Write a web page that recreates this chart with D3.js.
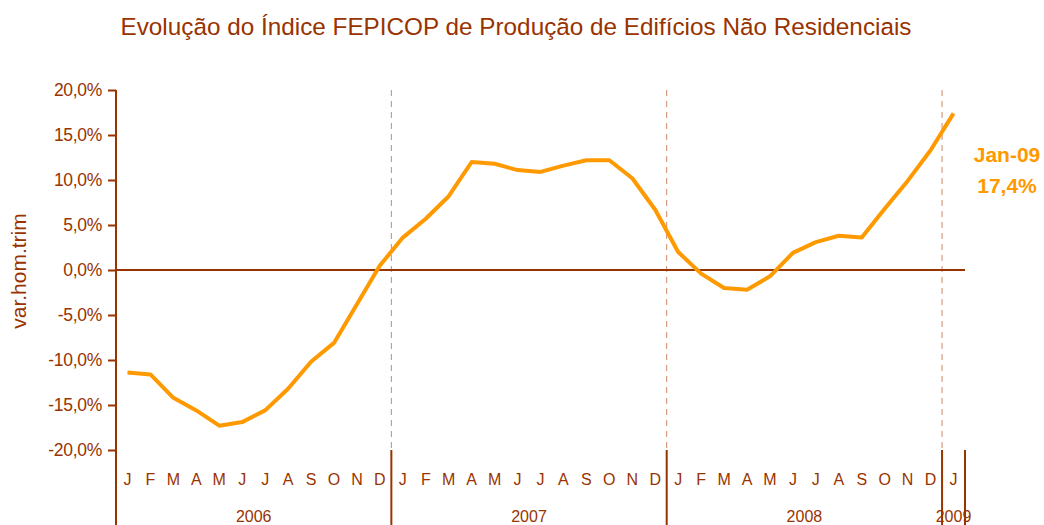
<!DOCTYPE html>
<html>
<head>
<meta charset="utf-8">
<script src="https://cdn.jsdelivr.net/npm/d3@7"></script>
<style>
  body { margin: 0; background: #fff; }
  text { font-family: "Liberation Sans", Arial, sans-serif; }
</style>
</head>
<body>
<div class="canvas"></div>
<script>
// data
const years = ['2006', '2007', '2008', '2009'];
const monthLetters = ['J', 'F', 'M', 'A', 'M', 'J', 'J', 'A', 'S', 'O', 'N', 'D'];
const values2006 = [-11.4, -11.6, -14.2, -15.6, -17.3, -16.9, -15.6, -13.2, -10.2, -8.1, -3.8, 0.5];
const values2007 = [3.6, 5.7, 8.2, 12.0, 11.8, 11.1, 10.9, 11.6, 12.2, 12.2, 10.2, 6.7];
const values2008 = [2.0, -0.4, -2.0, -2.2, -0.7, 1.9, 3.1, 3.8, 3.6, 6.8, 9.9, 13.3];
const values2009 = [17.4];
const yTicks = [-20, -15, -10, -5, 0, 5, 10, 15, 20];

const brown = '#993300';
const orange = '#FF9900';

const series = [values2006, values2007, values2008, values2009];
const data = [];
series.forEach((vals, i) => {
    vals.forEach((v, m) => {
        data.push({ key: years[i] + '-' + m, year: years[i], month: monthLetters[m], value: v });
    });
});

// pt-style percent: comma decimal, plain hyphen for negatives
const pct = v => v.toFixed(1).replace('.', ',') + '%';

const svg = d3.select('.canvas')
                .append('svg')
                .attr('width', 1044)
                .attr('height', 525);

const margin = {top: 90, left: 116};
const graphWidth = 849;
const graphHeight = 360;

const graph = svg.append('g')
                    .attr('transform', `translate(${margin.left}, ${margin.top})`);

const x = d3.scaleBand()
            .domain(data.map(d => d.key))
            .range([0, graphWidth]);

const y = d3.scaleLinear()
            .domain([-20, 20])
            .range([graphHeight, 0]);

// title
svg.append('text')
    .attr('x', 516)
    .attr('y', 35)
    .attr('text-anchor', 'middle')
    .attr('fill', brown)
    .attr('font-size', 24.3)
    .text('Evolução do Índice FEPICOP de Produção de Edifícios Não Residenciais');

// y axis title
svg.append('text')
    .attr('transform', 'translate(26, 271) rotate(-90)')
    .attr('text-anchor', 'middle')
    .attr('fill', brown)
    .attr('font-size', 21)
    .text('var.hom.trim');

// year separators (dashed in plot, solid below)
const yearStarts = years.map(yr => data.find(d => d.year === yr).key);
const sepKeys = yearStarts.slice(1);
graph.selectAll('line.sep')
    .data(sepKeys)
    .enter()
    .append('line')
    .attr('class', 'sep')
    .attr('x1', d => x(d))
    .attr('x2', d => x(d))
    .attr('y1', 0)
    .attr('y2', graphHeight)
    .attr('stroke', '#CC8866')
    .attr('stroke-width', 1)
    .attr('stroke-dasharray', '6,5');

const bottomLines = [0].concat(sepKeys.map(k => x(k))).concat([graphWidth]);
graph.selectAll('line.bottom')
    .data(bottomLines)
    .enter()
    .append('line')
    .attr('class', 'bottom')
    .attr('x1', d => d)
    .attr('x2', d => d)
    .attr('y1', graphHeight)
    .attr('y2', graphHeight + 80)
    .attr('stroke', brown)
    .attr('stroke-width', 2);

// y axis
const yAxis = d3.axisLeft(y)
                .tickValues(yTicks)
                .tickSize(8)
                .tickFormat(pct);
const yAxisGroup = graph.append('g').call(yAxis);
yAxisGroup.select('.domain').remove();
yAxisGroup.selectAll('.tick line').attr('stroke', brown).attr('stroke-width', 2);
yAxisGroup.selectAll('.tick text')
    .attr('fill', brown)
    .attr('font-size', 17.5)
    .attr('x', -14)
    .style('letter-spacing', '-0.3px');
graph.append('line')
    .attr('x1', 0).attr('x2', 0)
    .attr('y1', 0).attr('y2', graphHeight)
    .attr('stroke', brown)
    .attr('stroke-width', 2);

// zero line
graph.append('line')
    .attr('x1', 0)
    .attr('x2', graphWidth)
    .attr('y1', y(0))
    .attr('y2', y(0))
    .attr('stroke', brown)
    .attr('stroke-width', 2);

// month labels
graph.selectAll('text.month')
    .data(data)
    .enter()
    .append('text')
    .attr('class', 'month')
    .attr('x', d => x(d.key) + x.bandwidth() / 2)
    .attr('y', graphHeight + 35)
    .attr('text-anchor', 'middle')
    .attr('fill', brown)
    .attr('font-size', 16)
    .text(d => d.month);

// year labels
graph.selectAll('text.year')
    .data(years)
    .enter()
    .append('text')
    .attr('class', 'year')
    .attr('x', yr => {
        const keys = data.filter(d => d.year === yr).map(d => d.key);
        return (x(keys[0]) + x(keys[keys.length - 1]) + x.bandwidth()) / 2;
    })
    .attr('y', graphHeight + 72)
    .attr('text-anchor', 'middle')
    .attr('fill', brown)
    .attr('font-size', 16)
    .text(d => d);

// the line
const line = d3.line()
                .x(d => x(d.key) + x.bandwidth() / 2)
                .y(d => y(d.value));

graph.append('path')
    .datum(data)
    .attr('d', line)
    .attr('fill', 'none')
    .attr('stroke', orange)
    .attr('stroke-width', 4)
    .attr('stroke-linejoin', 'round');

// last value label
const last = data[data.length - 1];
const lbl = svg.append('text')
    .attr('text-anchor', 'middle')
    .attr('fill', orange)
    .attr('font-size', 21)
    .attr('font-weight', 'bold');
lbl.append('tspan').attr('x', 1007).attr('y', 162).text('Jan-09');
lbl.append('tspan').attr('x', 1007).attr('y', 193).text(pct(last.value));
</script>
</body>
</html>
